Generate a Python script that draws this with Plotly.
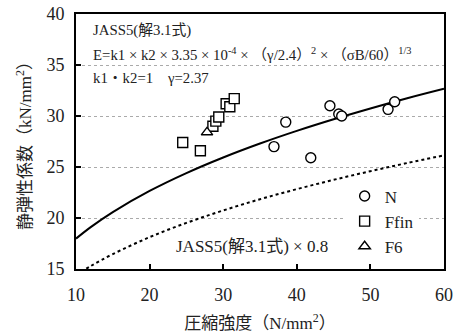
import plotly.graph_objects as go

# Curve values (JASS5 eq. and x0.8)
curve_x = [10, 12, 15, 20, 25, 30, 35, 40, 45, 50, 55, 60]
jass_y = [17.98, 19.11, 20.58, 22.65, 24.40, 25.93, 27.30, 28.54, 29.68, 30.74, 31.74, 32.67]
jass08_y = [14.38, 15.29, 16.46, 18.12, 19.52, 20.74, 21.84, 22.83, 23.74, 24.59, 25.39, 26.14]

n_x = [44.5, 45.7, 46.1, 38.5, 36.9, 41.9, 52.4, 53.3]
n_y = [31.0, 30.2, 30.0, 29.4, 27.0, 25.9, 30.65, 31.4]

ffin_x = [24.5, 26.9, 28.6, 29.0, 29.4, 30.4, 30.9, 31.5]
ffin_y = [27.4, 26.6, 29.0, 29.5, 29.9, 31.2, 30.9, 31.7]

f6_x = [27.8]
f6_y = [28.4]

x_ticks = [10, 20, 30, 40, 50, 60]
y_ticks = [15, 20, 25, 30, 35, 40]

FONT = "Liberation Serif, Times New Roman, Noto Sans CJK JP, serif"

fig = go.Figure()
fig.add_trace(go.Scatter(x=curve_x, y=jass_y, mode="lines", line=dict(color="black", width=2, shape="spline"),
                         showlegend=False, hoverinfo="skip"))
fig.add_trace(go.Scatter(x=curve_x, y=jass08_y, mode="lines", line=dict(color="black", width=2, dash="dot", shape="spline"),
                         showlegend=False, hoverinfo="skip"))
mk = dict(size=10, color="white", line=dict(color="black", width=1.4))
fig.add_trace(go.Scatter(x=n_x, y=n_y, mode="markers", name="N",
                         marker=dict(symbol="circle", **mk)))
fig.add_trace(go.Scatter(x=ffin_x, y=ffin_y, mode="markers", name="Ffin",
                         marker=dict(symbol="square", **mk)))
fig.add_trace(go.Scatter(x=f6_x, y=f6_y, mode="markers", name="F6",
                         marker=dict(symbol="triangle-up", **mk)))

ann_font = dict(family=FONT, size=14.8, color="#222")
fig.add_annotation(x=0.04, y=0.935, xref="paper", yref="paper", xanchor="left", yanchor="middle",
                   text="JASS5(解3.1式)", showarrow=False, font=ann_font)
fig.add_annotation(x=0.04, y=0.845, xref="paper", yref="paper", xanchor="left", yanchor="middle",
                   text="E=k1 × k2 × 3.35 × 10<sup>-4</sup> × （γ/2.4）<sup>2</sup> × （σB/60）<sup>1/3</sup>",
                   showarrow=False, font=ann_font)
fig.add_annotation(x=0.04, y=0.75, xref="paper", yref="paper", xanchor="left", yanchor="middle",
                   text="k1・k2=1　γ=2.37", showarrow=False, font=ann_font)
fig.add_annotation(x=0.265, y=0.09, xref="paper", yref="paper", xanchor="left", yanchor="middle",
                   text="JASS5(解3.1式) × 0.8", showarrow=False, font=dict(family=FONT, size=17, color="#222"))

fig.update_layout(
    width=459, height=336,
    margin=dict(l=76, r=15, t=14, b=67),
    paper_bgcolor="white", plot_bgcolor="white",
    font=dict(family=FONT, size=17, color="#222"),
    legend=dict(x=0.73, y=0.355, xanchor="left", yanchor="top", bgcolor="white",
                font=dict(family=FONT, size=17), itemwidth=30, tracegroupgap=0),
    xaxis=dict(range=[10, 60], tickvals=x_ticks, ticks="inside", ticklen=5, tickwidth=1.5, tickcolor="black",
               showline=True, linecolor="black", linewidth=2, mirror=True, showgrid=False, zeroline=False,
               ticklabelstandoff=8, automargin=False,
               title=dict(text="圧縮強度（N/mm<sup>2</sup>）", font=dict(family=FONT, size=17), standoff=14),
               tickfont=dict(family=FONT, size=18)),
    yaxis=dict(range=[15, 40], tickvals=y_ticks, ticks="inside", ticklen=5, tickwidth=1.5, tickcolor="black",
               showline=True, linecolor="black", linewidth=2, mirror=True, showgrid=True,
               gridcolor="#aaa", griddash="dot", gridwidth=1, zeroline=False, ticklabelstandoff=6,
               automargin=False,
               title=dict(text="静弾性係数（kN/mm<sup>2</sup>）", font=dict(family=FONT, size=17), standoff=10),
               tickfont=dict(family=FONT, size=18)),
)

fig.write_html("out.html")
